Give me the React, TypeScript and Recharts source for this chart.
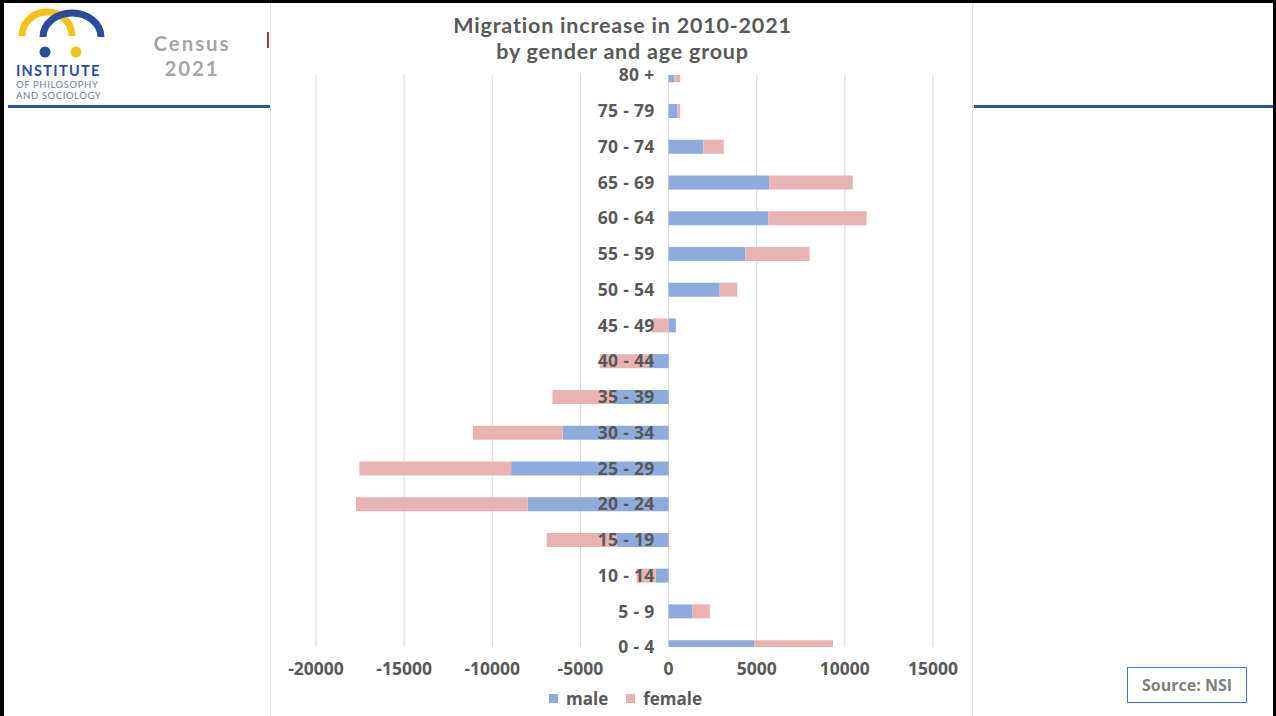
import React from 'react';
import { BarChart, Bar, XAxis, YAxis, CartesianGrid, Legend, LabelList } from 'recharts';

// age groups, top to bottom
const AGE_GROUPS = [
  '80 +', '75 - 79', '70 - 74', '65 - 69', '60 - 64', '55 - 59', '50 - 54', '45 - 49', '40 - 44',
  '35 - 39', '30 - 34', '25 - 29', '20 - 24', '15 - 19', '10 - 14', '5 - 9', '0 - 4',
];
const MALE = [320, 510, 1980, 5700, 5660, 4360, 2900, 410, -1150, -3130, -6000, -8930, -8000, -2950, -720, 1340, 4870];
const FEMALE = [340, 150, 1150, 4750, 5570, 3640, 1000, -950, -2750, -3460, -5100, -8610, -9730, -3960, -1090, 1000, 4460];
const X_TICKS = [-20000, -15000, -10000, -5000, 0, 5000, 10000, 15000];

const MALE_COLOR = '#8FAADC';
const FEMALE_COLOR = '#E9B3B3';
const TEXT = '#595959';
const FONT = '"Open Sans", sans-serif';
const HEAD_FONT = 'Lato, sans-serif';

const rows = AGE_GROUPS.map((age, i) => ({ age, pos: i, male: MALE[i], female: FEMALE[i] }));
const positions = AGE_GROUPS.map((_, i) => i);

// category names sit just left of the zero line, on top of the bars;
// the male bar always starts at zero, so its inner edge gives the zero line
function AgeLabel(props: any) {
  const vb = props.viewBox ?? props;
  const { x, y, width, height } = vb;
  const male = rows[props.index]?.male ?? 0;
  const zeroX = male < 0 ? Math.max(x, x + width) : Math.min(x, x + width);
  return (
    <text
      x={zeroX - 14}
      y={y + height / 2}
      dy="0.36em"
      textAnchor="end"
      fill={TEXT}
      fontFamily={FONT}
      fontWeight={700}
      fontSize={17.5}
      letterSpacing={0.3}
    >
      {rows[props.index]?.age}
    </text>
  );
}

function GenderLegend() {
  const item = (color: string, name: string) => (
    <span style={{ display: 'inline-flex', alignItems: 'center', marginRight: 18 }}>
      <span style={{ width: 9, height: 9, background: color, marginRight: 8 }} />
      <span>{name}</span>
    </span>
  );
  return (
    <div style={{ fontFamily: FONT, fontWeight: 700, fontSize: 17, color: TEXT, whiteSpace: 'nowrap', lineHeight: '24px' }}>
      {item(MALE_COLOR, 'male')}
      {item(FEMALE_COLOR, 'female')}
    </div>
  );
}

function Logo() {
  return (
    <div style={{ position: 'absolute', left: 14, top: 8, width: 100, height: 95 }}>
      <svg width={100} height={52} style={{ position: 'absolute', left: 0, top: 0 }}>
        <path d="M8 28 A25 24 0 0 1 58 28" fill="none" stroke="#F5C21B" strokeWidth={7} />
        <path d="M29 29 A29 24 0 0 1 87 29" fill="none" stroke="#2B4C9B" strokeWidth={7} />
        <circle cx={31} cy={44} r={5.5} fill="#2B4C9B" />
        <circle cx={62} cy={44} r={5.5} fill="#F5C21B" />
      </svg>
      <div style={{ position: 'absolute', left: 2, top: 54, fontFamily: HEAD_FONT, fontWeight: 700, fontSize: 14.5, lineHeight: '17px', color: '#2B4C9B', letterSpacing: 1.3 }}>
        INSTITUTE
      </div>
      <div style={{ position: 'absolute', left: 2, top: 71, fontFamily: HEAD_FONT, fontSize: 9.5, lineHeight: '11px', color: '#6C7FA8', letterSpacing: 0.6 }}>
        <div>OF PHILOSOPHY</div>
        <div>AND SOCIOLOGY</div>
      </div>
    </div>
  );
}

export default function App() {
  return (
    <div
      style={{
        position: 'absolute', left: 0, top: 0, width: 1276, height: 716,
        background: '#fff', overflow: 'hidden', fontFamily: FONT,
      }}
    >
      <Logo />
      <div style={{ position: 'absolute', left: 130, top: 31, width: 124, textAlign: 'center', fontFamily: HEAD_FONT, fontWeight: 700, fontSize: 20.5, lineHeight: '25px', color: '#A6A6A6', letterSpacing: 1.9 }}>
        <div>Census</div>
        <div>2021</div>
      </div>

      <div style={{ position: 'absolute', left: 8, top: 105, width: 262, height: 3, background: '#2F5597' }} />
      <div style={{ position: 'absolute', left: 974, top: 105, width: 302, height: 3, background: '#2F5597' }} />
      <div style={{ position: 'absolute', left: 267, top: 32, width: 2, height: 16, background: '#A33' }} />

      {/* chart panel */}
      <div style={{ position: 'absolute', left: 270, top: 0, width: 703, height: 716, background: '#fff', borderLeft: '1px solid #e3e3e3', borderRight: '1px solid #e3e3e3', boxSizing: 'border-box' }}>
        <div style={{ position: 'absolute', left: 0, top: 12, width: 703, textAlign: 'center', fontFamily: HEAD_FONT, fontWeight: 700, fontSize: 21.5, lineHeight: '26px', color: TEXT, letterSpacing: 0.8 }}>
          <div>Migration increase in 2010-2021</div>
          <div>by gender and age group</div>
        </div>
        <div style={{ position: 'absolute', left: 0, top: 0 }}>
          <BarChart
            width={703}
            height={716}
            data={rows}
            layout="vertical"
            stackOffset="sign"
            margin={{ top: 75, right: 41, bottom: 15, left: 45 }}
          >
            <CartesianGrid horizontal={false} yAxisId="age" stroke="#D9D9D9" />
            <XAxis
              type="number"
              domain={[-20000, 15000]}
              ticks={X_TICKS}
              interval={0}
              axisLine={false}
              tickLine={false}
              tickMargin={10}
              tick={{ fill: TEXT, fontSize: 17.5, fontWeight: 700, fontFamily: FONT }}
            />
            <YAxis yAxisId="age" type="number" dataKey="pos" domain={[0, 16]} ticks={positions} hide allowDataOverflow />
            <Bar yAxisId="age" dataKey="male" name="male" stackId="g" fill={MALE_COLOR} barSize={14} isAnimationActive={false}>
              <LabelList dataKey="age" content={AgeLabel} />
            </Bar>
            <Bar yAxisId="age" dataKey="female" name="female" stackId="g" fill={FEMALE_COLOR} barSize={14} isAnimationActive={false} />
            <Legend content={GenderLegend} wrapperStyle={{ left: 278, top: 685, width: 190, height: 24 }} />
          </BarChart>
        </div>
      </div>

      <div
        style={{
          position: 'absolute', left: 1127, top: 667, width: 120, height: 36, boxSizing: 'border-box',
          border: '1.5px solid #4472C4', color: '#7F7F7F', fontWeight: 700, fontSize: 16,
          display: 'flex', alignItems: 'center', justifyContent: 'center',
        }}
      >
        Source: NSI
      </div>

      {/* slide frame */}
      <div style={{ position: 'absolute', left: 0, top: 0, width: 1276, height: 3, background: '#000' }} />
      <div style={{ position: 'absolute', left: 0, top: 0, width: 4, height: 716, background: '#000' }} />
      <div style={{ position: 'absolute', right: 0, top: 0, width: 3, height: 716, background: '#000' }} />
    </div>
  );
}
